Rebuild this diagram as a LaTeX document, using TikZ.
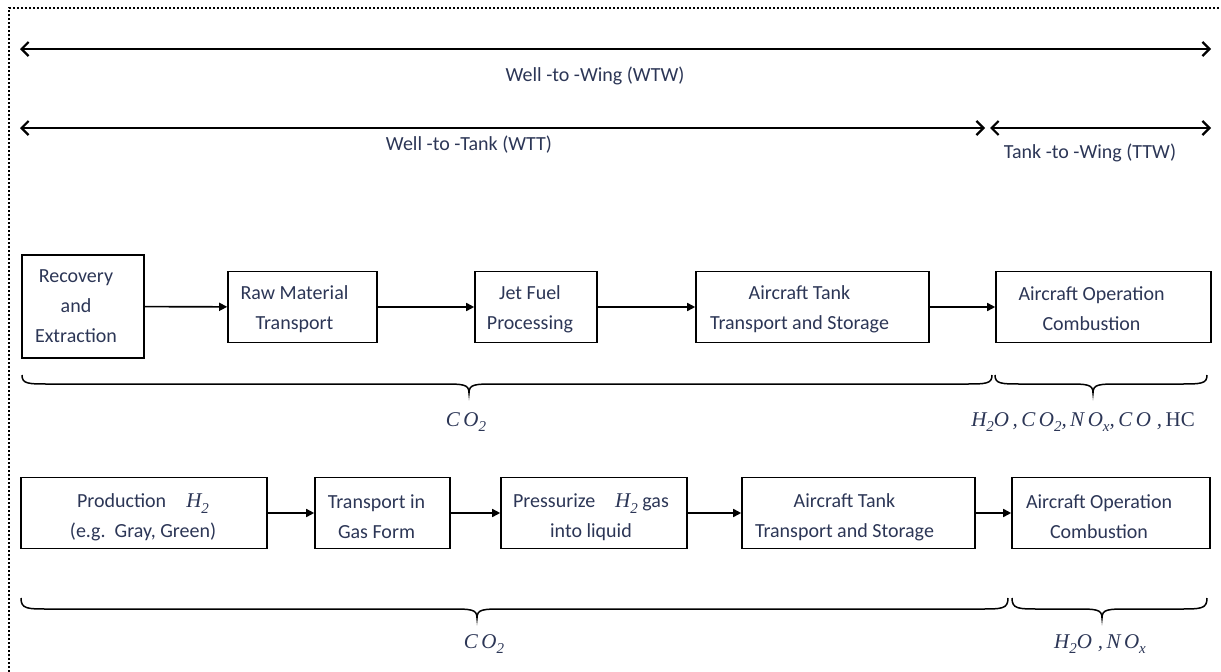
\documentclass[tikz,border=0pt]{standalone}
\usepackage{fontspec}
\setmainfont{Carlito}
\newfontfamily\eqfont{Liberation Serif}
\usetikzlibrary{arrows.meta}
\definecolor{ink}{RGB}{44,54,86}
% formula letters in a serif italic, with lowered subscripts
\newcommand\fv[1]{{\eqfont\itshape #1}}
\newcommand\fs[1]{\raisebox{-0.28em}{\fontsize{15}{15}\eqfont\itshape #1}}
% horizontal curly brace opening upwards: #1 left x, #2 right x, #3 tip x,
% #4 y of the curled ends, #5 y of the straight part, #6 y of the tip
\newcommand\curlybrace[6]{%
  \draw[bracestyle] (#1,#4) .. controls (#1,#5) and (#1+6,#5) .. (#1+28,#5)
    -- (#3-28,#5) .. controls (#3-6,#5) and (#3,#5) .. (#3,#6)
    .. controls (#3,#5) and (#3+6,#5) .. (#3+28,#5)
    -- (#2-28,#5) .. controls (#2-6,#5) and (#2,#5) .. (#2,#4);}
\begin{document}
\begin{tikzpicture}[x=1pt,y=-1pt,
  stepbox/.style={draw, line width=1.6pt, inner sep=0pt, minimum height=71pt},
  txt/.style={text=ink, align=center, inner sep=0pt, font=\fontsize{20}{30}\selectfont},
  eq/.style={txt, font=\fontsize{21}{30}\selectfont},
  flow/.style={line width=1.6pt, -{Triangle[length=8pt,width=8pt]}},
  span/.style={line width=2.2pt, {Straight Barb[length=7pt,width=14pt]}-{Straight Barb[length=7pt,width=14pt]}},
  bracestyle/.style={line width=1.5pt},
  frame/.style={line width=2pt, dash pattern=on 2pt off 2pt}]
\useasboundingbox (0,0) rectangle (1221,672);

% dotted frame
\draw[frame] (9,672) -- (9,8) -- (1221,8);

% life-cycle spans
\coordinate (wtwL) at (20,49);
\coordinate (wtwR) at (1211,49);
\coordinate (wttL) at (20,128);
\coordinate (wttR) at (985,128);
\coordinate (ttwL) at (990,128);
\coordinate (ttwR) at (1211,128);
\draw[span] (wtwL) -- (wtwR);
\draw[span] (wttL) -- (wttR);
\draw[span] (ttwL) -- (ttwR);
\node[txt] (wtw) at (595,76) {Well -to -Wing (WTW)};
\node[txt] (wtt) at (469,145) {Well -to -Tank (WTT)};
\node[txt] (ttw) at (1090,153) {Tank -to -Wing (TTW)};

% jet fuel chain
\node[stepbox, minimum width=122pt, minimum height=103pt] (a1) at (83,306.5) {};
\node[stepbox, minimum width=149pt] (a2) at (302.5,307) {};
\node[stepbox, minimum width=122pt] (a3) at (536,307) {};
\node[stepbox, minimum width=233pt] (a4) at (812.5,307) {};
\node[stepbox, minimum width=215pt] (a5) at (1103.5,307) {};
\node[txt] (a1t) at ([xshift=-7pt]a1.center) {Recovery\\and\\Extraction};
\node[txt] (a2t) at ([xshift=-8pt,yshift=-2pt]a2.center) {Raw Material\\Transport};
\node[txt] (a3t) at ([xshift=-6pt,yshift=-2pt]a3.center) {Jet Fuel\\Processing};
\node[txt] (a4t) at ([xshift=-13pt,yshift=-2pt]a4.center) {Aircraft Tank\\Transport and Storage};
\node[txt] (a5t) at ([xshift=-12pt,yshift=-2pt]a5.center) {Aircraft Operation\\Combustion};
\draw[flow] (a1) -- (a2);
\draw[flow] (a2) -- (a3);
\draw[flow] (a3) -- (a4);
\draw[flow] (a4) -- (a5);

\curlybrace{22}{992}{469}{375}{384}{393}
\curlybrace{995}{1207}{1093}{375}{384}{393}
\node[eq] (e1) at (466,422) {\fv{C\,O}\fs{2}};
\node[eq] (e2) at (1083,422) {\fv{H}\fs{2}\fv{O\,,\,C\,O}\fs{2}\fv{,\,N\,O}\fs{x}\fv{,\,C\,O\;,\,}{\eqfont HC}};

% hydrogen chain
\node[stepbox, minimum width=246pt] (b1) at (144,513) {};
\node[stepbox, minimum width=135pt] (b2) at (382.5,513) {};
\node[stepbox, minimum width=186pt] (b3) at (594,513) {};
\node[stepbox, minimum width=233pt] (b4) at (858.5,513) {};
\node[stepbox, minimum width=198pt] (b5) at (1111,513) {};
\node[txt] (b1t) at ([xshift=-1pt,yshift=-4pt]b1.center) {Production\quad{\fontsize{21}{30}\selectfont\fv{H}\fs{2}}\\(e.g.\ \ Gray, Green)};
\node[txt] (b2t) at ([xshift=-6pt,yshift=-4pt]b2.center) {Transport in\\Gas Form};
\node[txt] (b3t) at ([xshift=-3pt,yshift=-4pt]b3.center) {Pressurize\quad{\fontsize{21}{30}\selectfont\fv{H}\fs{2}} gas\\into liquid};
\node[txt] (b4t) at ([xshift=-14pt,yshift=-4pt]b4.center) {Aircraft Tank\\Transport and Storage};
\node[txt] (b5t) at ([xshift=-12pt,yshift=-4pt]b5.center) {Aircraft Operation\\Combustion};
\draw[flow] (b1) -- (b2);
\draw[flow] (b2) -- (b3);
\draw[flow] (b3) -- (b4);
\draw[flow] (b4) -- (b5);

\curlybrace{21}{1008}{477}{598}{609}{618}
\curlybrace{1012}{1207}{1102}{598}{609}{618}
\node[eq] (f1) at (484,644) {\fv{C\,O}\fs{2}};
\node[eq] (f2) at (1100,644) {\fv{H}\fs{2}\fv{O\;,\,N\,O}\fs{x}};
\end{tikzpicture}
\end{document}
